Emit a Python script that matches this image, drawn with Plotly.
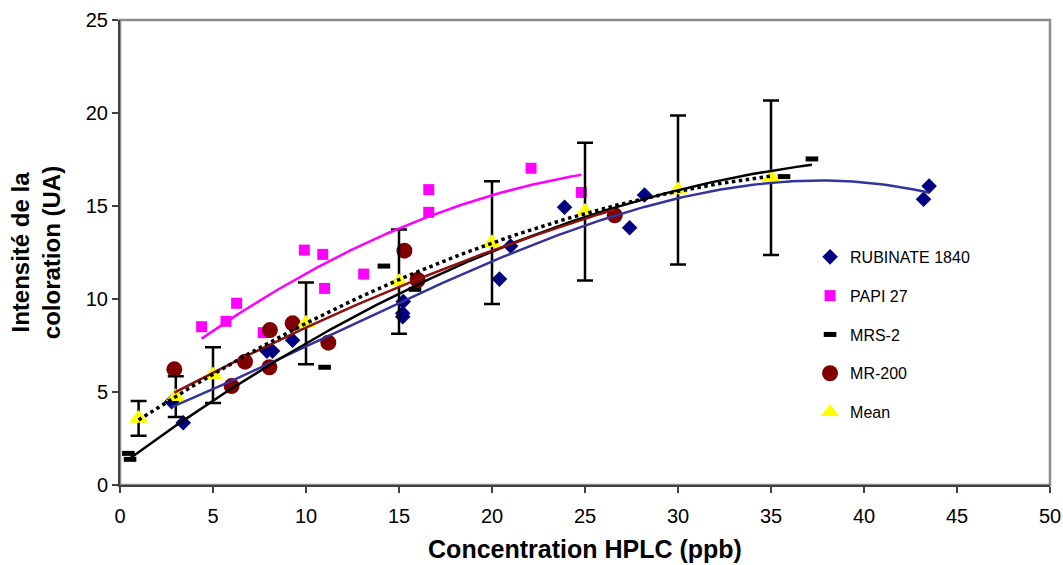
import numpy as np
import plotly.graph_objects as go

# ---- data ----
rub_x = [2.78, 3.4, 7.9, 8.2, 9.28, 15.2, 15.2, 15.23, 20.4, 21.0, 23.9, 27.4, 28.2, 43.2, 43.5]
rub_y = [4.48, 3.35, 7.2, 7.2, 7.78, 9.05, 9.23, 9.86, 11.07, 12.85, 14.93, 13.83, 15.59, 15.36, 16.07]

papi_x = [4.39, 5.7, 6.27, 7.7, 9.91, 10.9, 11.0, 13.1, 16.6, 16.6, 22.1, 24.8]
papi_y = [8.51, 8.8, 9.77, 8.19, 12.63, 12.4, 10.57, 11.34, 15.88, 14.66, 17.03, 15.73]

mrs_x = [0.45, 0.54, 11.0, 14.19, 15.86, 35.7, 37.2]
mrs_y = [1.7, 1.38, 6.33, 11.77, 10.52, 16.58, 17.53]

mr_x = [2.92, 6.0, 6.72, 8.03, 8.06, 9.28, 11.2, 15.29, 16.0, 26.6]
mr_y = [6.22, 5.32, 6.63, 6.33, 8.33, 8.69, 7.65, 12.6, 11.02, 14.5]

mean_x = [1, 3, 5, 10, 15, 20, 25, 30, 35]
mean_y = [3.58, 4.75, 5.91, 8.69, 10.93, 13.03, 14.7, 15.86, 16.52]
mean_err = [0.93, 1.1, 1.5, 2.2, 2.8, 3.3, 3.7, 4.0, 4.15]

x_ticks = [0, 5, 10, 15, 20, 25, 30, 35, 40, 45, 50]
y_ticks = [0, 5, 10, 15, 20, 25]

FONT = "Liberation Sans, Arial, sans-serif"


def trend(xs, ys, deg=2):
    c = np.polyfit(xs, ys, deg)
    xx = np.linspace(min(xs), max(xs), 150)
    return xx, np.polyval(c, xx)


fig = go.Figure()

# markers
fig.add_trace(go.Scatter(x=rub_x, y=rub_y, mode="markers", name="RUBINATE 1840",
                         legendgroup="a",
                         marker=dict(symbol="diamond", size=12, color="#000080")))
fig.add_trace(go.Scatter(x=papi_x, y=papi_y, mode="markers", name="PAPI 27",
                         legendgroup="b",
                         marker=dict(symbol="square", size=11, color="#FF00FF")))
fig.add_trace(go.Scatter(x=mrs_x, y=mrs_y, mode="markers", name="MRS-2",
                         legendgroup="c",
                         marker=dict(symbol="line-ew", size=9, color="black",
                                     line=dict(width=5, color="black"))))
fig.add_trace(go.Scatter(x=mr_x, y=mr_y, mode="markers", name="MR-200",
                         legendgroup="d",
                         marker=dict(symbol="circle", size=16, color="#800000")))
fig.add_trace(go.Scatter(x=mean_x, y=mean_y, mode="markers", name="Mean",
                         legendgroup="e",
                         marker=dict(symbol="triangle-up", size=17, color="#FFFF00"),
                         error_y=dict(type="data", array=mean_err, visible=True,
                                      color="black", thickness=2.5, width=8)))

# trendlines (polynomial fits of each series)
for xs, ys, col, dash, deg in [(rub_x, rub_y, "#333399", "solid", 3),
                               (papi_x, papi_y, "#FF00FF", "solid", 2),
                               (mrs_x, mrs_y, "black", "solid", 2),
                               (mr_x, mr_y, "#8B1010", "solid", 2),
                               (mean_x, mean_y, "black", "dot", 2)]:
    tx, ty = trend(xs, ys, deg)
    fig.add_trace(go.Scatter(x=tx, y=ty, mode="lines", showlegend=False,
                             hoverinfo="skip",
                             line=dict(color=col, width=2.5 if dash == "solid" else 3.5,
                                       dash=dash)))

fig.update_layout(
    width=1063, height=565,
    margin=dict(l=120, r=13, t=20, b=80),
    paper_bgcolor="white", plot_bgcolor="white",
    font=dict(family=FONT, color="black"),
    showlegend=True,
    legend=dict(x=0.742, y=0.527, xanchor="left", yanchor="top",
                font=dict(size=16, family=FONT), tracegroupgap=15,
                bgcolor="rgba(0,0,0,0)", itemwidth=30),
    xaxis=dict(range=[0, 50], tickvals=x_ticks, showgrid=False, zeroline=False,
               automargin=False,
               showline=True, linecolor="#404040", linewidth=2,
               ticks="outside", ticklen=6, tickwidth=1.5, tickcolor="#404040",
               ticklabelstandoff=6,
               tickfont=dict(size=20, family=FONT),
               title=dict(text="<b>Concentration HPLC (ppb)</b>",
                          font=dict(size=25, family=FONT), standoff=14)),
    yaxis=dict(range=[0, 25], tickvals=y_ticks, showgrid=False, zeroline=False,
               automargin=False,
               showline=True, linecolor="#404040", linewidth=2,
               ticks="outside", ticklen=6, tickwidth=1.5, tickcolor="#404040",
               tickfont=dict(size=20, family=FONT),
               title=dict(text="<b>Intensité de la<br>coloration (UA)</b>",
                          font=dict(size=24, family=FONT), standoff=18)),
    shapes=[dict(type="rect", xref="paper", yref="paper", x0=0, y0=0, x1=1, y1=1,
                 line=dict(color="#8C8C8C", width=2.5), layer="below")],
)

# remove the default 8px page margin so the figure fills the window exactly
fig.write_html("out.html", config={"displayModeBar": False},
               post_script="document.body.style.margin='0px';document.body.style.overflow='hidden';")
